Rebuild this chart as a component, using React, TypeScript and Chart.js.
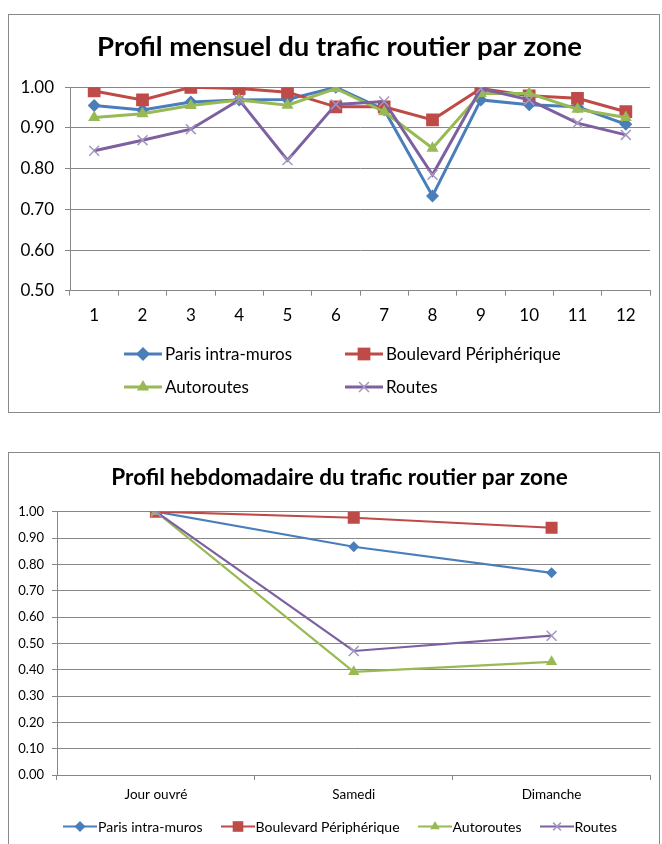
import React, { useEffect, useRef } from 'react';
import { Chart, registerables } from 'chart.js';

Chart.register(...registerables);

// ---------- DATA ----------
const SERIES_NAMES = ['Paris intra-muros', 'Boulevard Périphérique', 'Autoroutes', 'Routes'];

const MONTHS = ['1', '2', '3', '4', '5', '6', '7', '8', '9', '10', '11', '12'];
const PARIS_MONTHLY = [0.955, 0.944, 0.964, 0.969, 0.97, 1.0, 0.945, 0.733, 0.969, 0.957, 0.952, 0.909];
const PERIPH_MONTHLY = [0.991, 0.969, 1.0, 0.997, 0.988, 0.952, 0.952, 0.92, 0.997, 0.979, 0.973, 0.94];
const AUTOROUTES_MONTHLY = [0.926, 0.935, 0.955, 0.969, 0.956, 0.997, 0.94, 0.85, 0.985, 0.985, 0.946, 0.926];
const ROUTES_MONTHLY = [0.844, 0.87, 0.897, 0.969, 0.821, 0.958, 0.965, 0.785, 0.997, 0.969, 0.912, 0.883];
const MONTHLY_Y_TICKS = [0.5, 0.6, 0.7, 0.8, 0.9, 1.0];

const DAYS = ['Jour ouvré', 'Samedi', 'Dimanche'];
const PARIS_WEEKLY = [1.0, 0.867, 0.768];
const PERIPH_WEEKLY = [1.0, 0.977, 0.939];
const AUTOROUTES_WEEKLY = [1.0, 0.392, 0.43];
const ROUTES_WEEKLY = [1.0, 0.471, 0.529];
const WEEKLY_Y_TICKS = [0, 0.1, 0.2, 0.3, 0.4, 0.5, 0.6, 0.7, 0.8, 0.9, 1.0];

// ---------- STYLE ----------
const SERIES_COLORS = ['#4A7EBB', '#BE4B48', '#98B954', '#7D60A0'];
const MARKER_COLORS = ['#4A7EBB', '#BE4B48', '#98B954', '#A596C0'];
const MARKERS = ['rectRot', 'rect', 'triangle', 'crossRot'];
const GRID = '#878787';
const FONT = 'Lato, "Open Sans", sans-serif';

type Spec = {
  title: string;
  labels: string[];
  series: number[][];
  yTicks: number[];
  width: number;
  height: number;
  titleSize: number;
  titlePad: { top: number; bottom: number };
  titleShift: number;
  yTickSize: number;
  xTickSize: number;
  yWidth: number;
  xHeight: number;
  pad: { left: number; right: number; top: number; bottom: number };
  lineWidth: number;
  radii: number[];
  xTickPadding: number;
  yTickPadding: number;
};

function LineChart({ spec }: { spec: Spec }) {
  const ref = useRef<HTMLCanvasElement>(null);
  useEffect(() => {
    const shiftTitle = {
      id: 'shiftTitle',
      afterLayout(chart: any) {
        const tb = chart.titleBlock;
        if (tb) {
          tb.left += spec.titleShift;
          tb.right += spec.titleShift;
        }
      },
    };
    const chart = new Chart(ref.current as HTMLCanvasElement, {
      type: 'line',
      data: {
        labels: spec.labels,
        datasets: spec.series.map((values, i) => ({
          label: SERIES_NAMES[i],
          data: values,
          borderColor: SERIES_COLORS[i],
          backgroundColor: MARKER_COLORS[i],
          borderWidth: spec.lineWidth,
          pointStyle: MARKERS[i] as any,
          pointRadius: spec.radii[i],
          pointBorderWidth: i === 3 ? 1.5 : 0,
          pointBorderColor: MARKER_COLORS[i],
          pointBackgroundColor: MARKER_COLORS[i],
          tension: 0,
          fill: false,
          order: 4 - i,
        })),
      },
      options: {
        responsive: false,
        animation: false,
        layout: { padding: spec.pad },
        plugins: {
          legend: { display: false },
          tooltip: { enabled: false },
          title: {
            display: true,
            text: spec.title,
            color: '#000',
            font: { family: FONT, size: spec.titleSize, weight: 'bold' },
            padding: spec.titlePad,
          },
        },
        scales: {
          x: {
            type: 'category',
            offset: true,
            grid: { offset: true, drawOnChartArea: false, drawTicks: true, tickLength: 5, color: GRID },
            border: { color: GRID, width: 1 },
            ticks: {
              color: '#000',
              font: { family: FONT, size: spec.xTickSize },
              padding: spec.xTickPadding,
              maxRotation: 0,
              autoSkip: false,
            },
            afterFit: (s: any) => {
              s.height = spec.xHeight;
            },
          },
          y: {
            min: spec.yTicks[0],
            max: spec.yTicks[spec.yTicks.length - 1],
            afterBuildTicks: (s: any) => {
              s.ticks = spec.yTicks.map((v) => ({ value: v }));
            },
            grid: { color: GRID, tickLength: 5 },
            border: { color: GRID, width: 1 },
            ticks: {
              color: '#000',
              font: { family: FONT, size: spec.yTickSize },
              padding: spec.yTickPadding,
              callback: (v: any) => Number(v).toFixed(2),
            },
            afterFit: (s: any) => {
              s.width = spec.yWidth;
            },
          },
        },
      } as any,
      plugins: [shiftTitle],
    });
    return () => chart.destroy();
  }, []);
  return <canvas ref={ref} width={spec.width} height={spec.height} style={{ display: 'block' }} />;
}

function LegendIcon({ i, w, r, lw }: { i: number; w: number; r: number; lw: number }) {
  const h = Math.ceil(2 * r + 4);
  const cx = w / 2;
  const cy = h / 2;
  const c = MARKER_COLORS[i];
  let marker: React.ReactNode = null;
  const kind = MARKERS[i];
  if (kind === 'rectRot') {
    marker = <polygon points={`${cx},${cy - r} ${cx + r},${cy} ${cx},${cy + r} ${cx - r},${cy}`} fill={c} />;
  } else if (kind === 'rect') {
    const s = r * Math.SQRT2;
    marker = <rect x={cx - s / 2} y={cy - s / 2} width={s} height={s} fill={c} />;
  } else if (kind === 'triangle') {
    const hh = r * 1.5;
    marker = (
      <polygon
        points={`${cx},${cy - (2 / 3) * hh} ${cx + r * 0.87},${cy + hh / 3} ${cx - r * 0.87},${cy + hh / 3}`}
        fill={c}
      />
    );
  } else {
    const d = r * Math.SQRT1_2;
    marker = (
      <g stroke={c} strokeWidth={1.5}>
        <line x1={cx - d} y1={cy - d} x2={cx + d} y2={cy + d} />
        <line x1={cx - d} y1={cy + d} x2={cx + d} y2={cy - d} />
      </g>
    );
  }
  return (
    <svg width={w} height={h} style={{ display: 'block', flex: 'none' }}>
      <line x1={0} y1={cy} x2={w} y2={cy} stroke={SERIES_COLORS[i]} strokeWidth={lw} />
      {marker}
    </svg>
  );
}

const monthlySpec: Spec = {
  title: 'Profil mensuel du trafic routier par zone',
  labels: MONTHS,
  series: [PARIS_MONTHLY, PERIPH_MONTHLY, AUTOROUTES_MONTHLY, ROUTES_MONTHLY],
  yTicks: MONTHLY_Y_TICKS,
  width: 650,
  height: 397,
  titleSize: 27.5,
  titlePad: { top: 15.5, bottom: 23.8 },
  titleShift: 10,
  yTickSize: 17,
  xTickSize: 17,
  yWidth: 61,
  xHeight: 40,
  pad: { left: 0, right: 9, top: 0, bottom: 81.3 },
  lineWidth: 3,
  radii: [6.5, 9, 7, 7],
  xTickPadding: 10,
  yTickPadding: 11,
};

const weeklySpec: Spec = {
  title: 'Profil hebdomadaire du trafic routier par zone',
  labels: DAYS,
  series: [PARIS_WEEKLY, PERIPH_WEEKLY, AUTOROUTES_WEEKLY, ROUTES_WEEKLY],
  yTicks: WEEKLY_Y_TICKS,
  width: 650,
  height: 391,
  titleSize: 22.5,
  titlePad: { top: 11.5, bottom: 20.2 },
  titleShift: 7.5,
  yTickSize: 13,
  xTickSize: 13.5,
  yWidth: 48,
  xHeight: 30,
  pad: { left: 0, right: 4, top: 0, bottom: 39 },
  lineWidth: 2.2,
  radii: [5.5, 8.5, 6.5, 7],
  xTickPadding: 7,
  yTickPadding: 8,
};

export default function App() {
  return (
    <div style={{ position: 'absolute', left: 0, top: 0, width: 662, height: 844, background: '#fff', overflow: 'hidden', fontFamily: FONT }}>
      {/* Chart 1 */}
      <div style={{ position: 'absolute', left: 8, top: 14, width: 650, height: 397, border: '1px solid #8a8a8a' }}>
        <LineChart spec={monthlySpec} />
      </div>
      <div
        style={{
          position: 'absolute',
          left: 124,
          top: 337,
          display: 'grid',
          gridTemplateColumns: '221px auto',
          gridAutoRows: '33px',
          alignItems: 'center',
          fontSize: 17,
          color: '#000',
        }}
      >
        {SERIES_NAMES.map((name, i) => (
          <div key={name} style={{ display: 'flex', alignItems: 'center', gap: 3 }}>
            <LegendIcon i={i} w={38} r={i === 1 ? 9 : 7} lw={3} />
            <span>{name}</span>
          </div>
        ))}
      </div>

      {/* Chart 2 */}
      <div style={{ position: 'absolute', left: 8, top: 452, width: 650, height: 400, border: '1px solid #8a8a8a' }}>
        <LineChart spec={weeklySpec} />
      </div>
      <div
        style={{
          position: 'absolute',
          left: 63,
          top: 816,
          height: 20,
          display: 'flex',
          alignItems: 'center',
          gap: 18,
          fontSize: 14,
          color: '#000',
          whiteSpace: 'nowrap',
        }}
      >
        {SERIES_NAMES.map((name, i) => (
          <div key={name} style={{ display: 'flex', alignItems: 'center', gap: 1 }}>
            <LegendIcon i={i} w={34} r={i === 1 ? 7.5 : 5.5} lw={2.2} />
            <span>{name}</span>
          </div>
        ))}
      </div>
    </div>
  );
}
